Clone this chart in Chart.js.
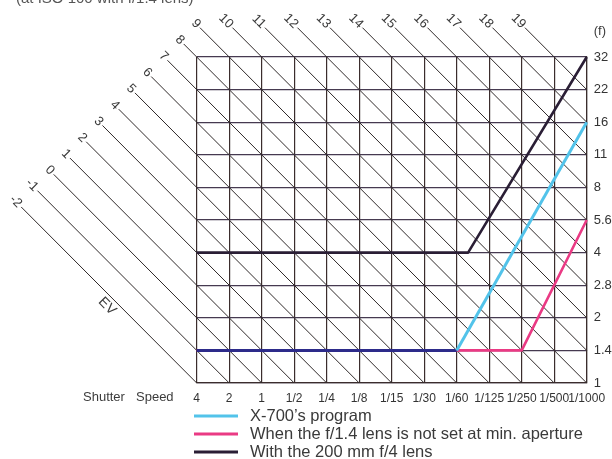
<!DOCTYPE html>
<html>
<head>
<meta charset="utf-8">
<script src="https://cdn.jsdelivr.net/npm/chart.js@4.4.1/dist/chart.umd.min.js"></script>
<style>
html,body{margin:0;padding:0;background:#fff;}
#wrap{width:612px;height:459px;position:relative;overflow:hidden;}
</style>
</head>
<body>
<div id="wrap"><canvas id="c" width="612" height="459"></canvas></div>
<script>
// ---- data ----
const shutterSpeeds = ['4','2','1','1/2','1/4','1/8','1/15','1/30','1/60','1/125','1/250','1/500','1/1000'];
const apertures = ['1','1.4','2','2.8','4','5.6','8','11','16','22','32'];
const evNumbers = [-2,-1,0,1,2,3,4,5,6,7,8,9,10,11,12,13,14,15,16,17,18,19];
// program lines: [shutter-speed index, aperture index]
const x700Program = [[0,1],[8,1],[12,8]];
const f14NotMinAperture = [[0,1],[10,1],[12,5]];
const lens200mmF4 = [[0,4],[8.35,4],[12,10]];
const seriesNames = ['X-700\u2019s program','When the f/1.4 lens is not set at min. aperture','With the 200 mm f/4 lens'];
const titleText = '(at ISO 100 with f/1.4 lens)';

// ---- styles ----
const C_BLUE = '#52c3ea', C_PINK = '#ea3a84', C_DARK = '#2a1e35', C_NAVY = '#2d2b8a';
const FONT = '"Liberation Sans", Arial, sans-serif';

const nX = shutterSpeeds.length - 1, nY = apertures.length - 1;
function evLine(ev) {
  const s = ev + 2; // shutter index + aperture index on this EV line (4 s = Tv -2)
  const end = s <= nX ? {x: s, y: 0} : {x: nX, y: s - nX};
  const start = s <= nY ? {x: (s - 10.8) / 2, y: (s + 10.8) / 2} : {x: s - 10.9, y: 10.9};
  return [start, end];
}
const toXY = arr => arr.map(p => ({x: p[0], y: p[1]}));

const evDatasets = evNumbers.map(ev => ({
  type: 'line', data: evLine(ev), borderColor: '#2f2929', borderWidth: 1,
  pointRadius: 0, clip: false, order: 10, tension: 0
}));

const progDatasets = [
  {data: toXY(f14NotMinAperture), borderColor: C_PINK, borderWidth: 2.6, order: 3},
  {data: toXY(x700Program), borderColor: C_BLUE, borderWidth: 3, order: 2,
   segment: {borderColor: c => c.p0DataIndex === 0 ? C_NAVY : C_BLUE}},
  {data: toXY(lens200mmF4), borderColor: C_DARK, borderWidth: 2.6, order: 1}
].map(d => Object.assign({type: 'line', pointRadius: 0, clip: false, tension: 0,
  borderJoinStyle: 'round'}, d));

const annotate = {
  id: 'annotate',
  afterDraw(chart) {
    const {ctx, scales: {x, y}} = chart;
    ctx.save();
    // EV numbers at the outer end of each diagonal
    ctx.font = '13px ' + FONT;
    ctx.fillStyle = '#3a3a3a';
    ctx.textAlign = 'right';
    ctx.textBaseline = 'middle';
    evNumbers.forEach(ev => {
      const st = evLine(ev)[0];
      ctx.save();
      ctx.translate(x.getPixelForValue(st.x), y.getPixelForValue(st.y));
      ctx.rotate(Math.PI / 4);
      ctx.fillText(String(ev), -2, 0);
      ctx.restore();
    });
    // "EV" along the lowest diagonal
    ctx.save();
    ctx.translate(x.getPixelForValue(-2.6) - 5, y.getPixelForValue(2.6) + 8);
    ctx.rotate(Math.PI / 4);
    ctx.textAlign = 'center';
    ctx.font = '14px ' + FONT;
    ctx.fillText('EV', 0, 0);
    ctx.restore();
    // axis captions
    ctx.textAlign = 'left';
    ctx.font = '13px ' + FONT;
    ctx.fillStyle = '#3c3c3c';
    ctx.fillText('Shutter', 83, y.bottom + 14);
    ctx.fillText('Speed', 136, y.bottom + 14);
    ctx.fillText('(f)', x.right + 7, y.top - 26);
    // title (cut by top edge)
    ctx.font = '15px ' + FONT;
    ctx.fillStyle = '#555';
    ctx.textBaseline = 'alphabetic';
    ctx.fillText(titleText, 16, 3);
    // legend
    const cols = [C_BLUE, C_PINK, C_DARK];
    const ys = [416, 434, 452];
    ctx.font = '16.5px ' + FONT;
    ctx.fillStyle = '#3a3a3a';
    ctx.textBaseline = 'middle';
    seriesNames.forEach((n, i) => {
      ctx.strokeStyle = cols[i];
      ctx.lineWidth = 3;
      ctx.beginPath();
      ctx.moveTo(194, ys[i]); ctx.lineTo(238, ys[i]);
      ctx.stroke();
      ctx.fillText(n, 250, ys[i]);
    });
    ctx.restore();
  }
};

new Chart(document.getElementById('c'), {
  type: 'line',
  data: {datasets: [...evDatasets, ...progDatasets]},
  options: {
    responsive: false, animation: false, devicePixelRatio: 1, events: [],
    layout: {padding: {left: 196.7, top: 57, right: 0, bottom: 0}},
    plugins: {legend: {display: false}, tooltip: {enabled: false}},
    scales: {
      x: {
        type: 'linear', position: 'bottom', min: 0, max: nX,
        afterBuildTicks: s => { s.ticks = shutterSpeeds.map((_, i) => ({value: i})); },
        afterFit: s => { s.height = 76; s.paddingLeft = 0; s.paddingRight = 0; },
        ticks: {callback: v => shutterSpeeds[v], autoSkip: false, maxRotation: 0, minRotation: 0,
          font: {size: 12, family: FONT}, color: '#333', padding: 8},
        grid: {color: '#3b2d2d', lineWidth: 1.2, drawTicks: false},
        border: {color: '#3b2d2d', width: 1.2}
      },
      y: {
        type: 'linear', position: 'right', min: 0, max: nY,
        afterBuildTicks: s => { s.ticks = apertures.map((_, i) => ({value: i})); },
        afterFit: s => { s.width = 25.3; s.paddingTop = 0; s.paddingBottom = 0; },
        ticks: {callback: v => apertures[v], font: {size: 13, family: FONT}, color: '#333', padding: 7},
        grid: {color: '#463a50', lineWidth: 1.3, drawTicks: false},
        border: {color: '#3b2d2d', width: 1.2}
      }
    }
  },
  plugins: [annotate]
});
</script>
</body>
</html>
